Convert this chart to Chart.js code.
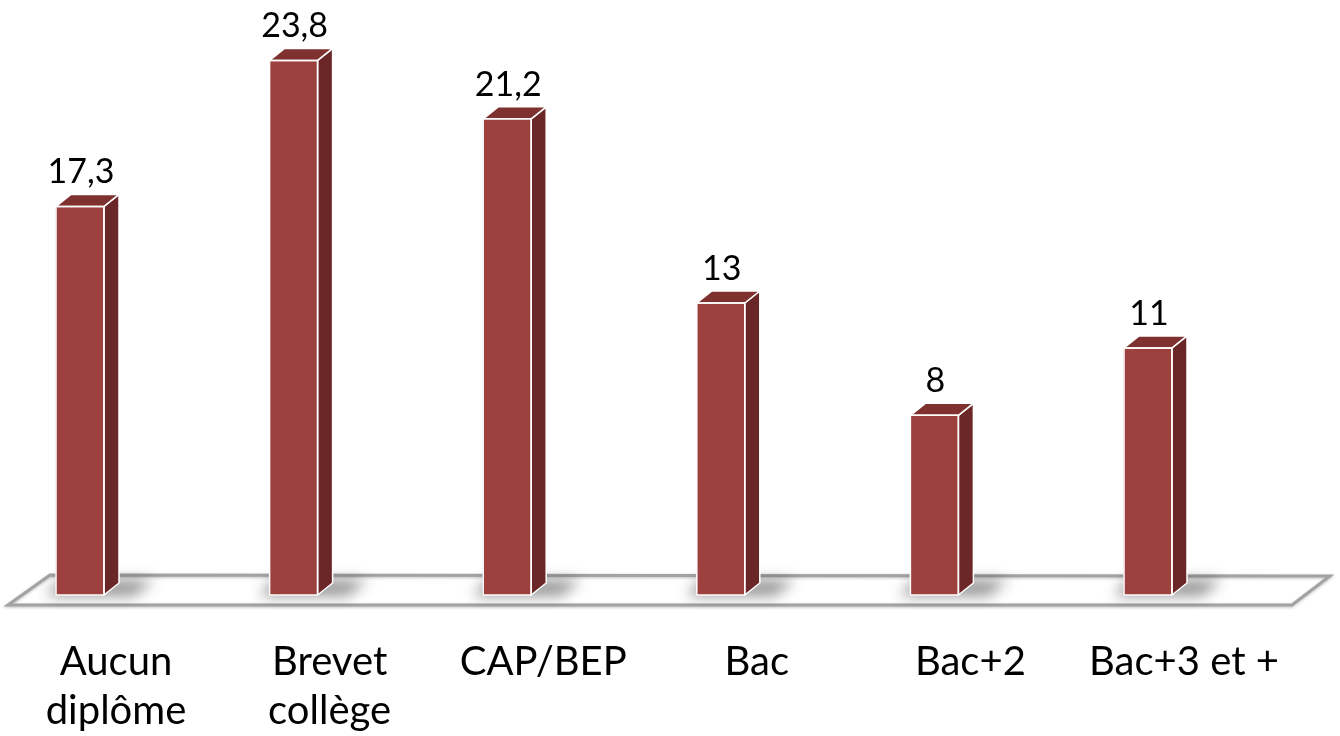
<!DOCTYPE html>
<html><head><meta charset="utf-8">
<script src="https://cdn.jsdelivr.net/npm/chart.js@4.4.1/dist/chart.umd.min.js"></script>
<style>html,body{margin:0;padding:0;background:#fff;}#wrap{width:1340px;height:736px;position:relative;}</style>
</head><body><div id="wrap"><canvas id="c"></canvas></div>
<script>
const categories = [['Aucun','diplôme'],['Brevet','collège'],'CAP/BEP','Bac','Bac+2','Bac+3 et +'];
const values = [17.3, 23.8, 21.2, 13, 8, 11];
const yMin = 0, yMax = 26;

const frontColor = '#9D413F', sideColor = '#6B2727', topColor = '#7E312F';
const depthX = 15, depthY = 12;
const fontFamily = 'Lato, "Open Sans", sans-serif';

const bars3d = {
  id: 'bars3d',
  beforeDatasetsDraw(chart) {
    const {ctx, chartArea: a} = chart;
    const y0 = chart.scales.y.getPixelForValue(0);
    ctx.save();
    // floor
    ctx.beginPath();
    ctx.moveTo(a.left - 72, y0 + 10);
    ctx.lineTo(a.left - 30, y0 - 20);
    ctx.lineTo(a.right + 182, y0 - 19);
    ctx.lineTo(a.right + 144, y0 + 10);
    ctx.closePath();
    ctx.fillStyle = '#fff';
    ctx.fill();
    ctx.shadowColor = 'rgba(0,0,0,0.25)';
    ctx.shadowBlur = 3; ctx.shadowOffsetY = 1;
    ctx.strokeStyle = '#A3A3A3';
    ctx.lineWidth = 3;
    ctx.lineJoin = 'miter';
    ctx.stroke();
    ctx.restore();
    // shadows
    const meta = chart.getDatasetMeta(0);
    meta.data.forEach(el => {
      const p = el.getProps(['x', 'width'], true);
      const l = p.x - p.width / 2, r = p.x + p.width / 2;
      ctx.save();
      ctx.filter = 'blur(7px)';
      ctx.beginPath();
      ctx.moveTo(l - 10, y0 + 1);
      ctx.lineTo(l + 4, y0 - 15);
      ctx.lineTo(r + 50, y0 - 15);
      ctx.lineTo(r + 30, y0 + 1);
      ctx.closePath();
      ctx.fillStyle = 'rgba(0,0,0,0.42)';
      ctx.fill();
      ctx.restore();
    });
  },
  afterDatasetsDraw(chart) {
    const {ctx} = chart;
    const y0 = chart.scales.y.getPixelForValue(0);
    const meta = chart.getDatasetMeta(0);
    meta.data.forEach((el, i) => {
      const p = el.getProps(['x', 'y', 'width'], true);
      const l = p.x - p.width / 2, r = p.x + p.width / 2, t = p.y;
      ctx.save();
      ctx.lineWidth = 1.5;
      ctx.strokeStyle = '#fff';
      ctx.lineJoin = 'round';
      // side
      ctx.beginPath();
      ctx.moveTo(r, t);
      ctx.lineTo(r + depthX, t - depthY);
      ctx.lineTo(r + depthX, y0 - depthY);
      ctx.lineTo(r, y0);
      ctx.closePath();
      ctx.fillStyle = sideColor;
      ctx.fill();
      ctx.stroke();
      // top
      ctx.beginPath();
      ctx.moveTo(l, t);
      ctx.lineTo(l + depthX, t - depthY);
      ctx.lineTo(r + depthX, t - depthY);
      ctx.lineTo(r, t);
      ctx.closePath();
      ctx.fillStyle = topColor;
      ctx.fill();
      ctx.stroke();
      // front outline
      ctx.strokeRect(l, t, p.width, y0 - t);
      // value label
      ctx.fillStyle = '#000';
      ctx.font = '34px ' + fontFamily;
      ctx.textAlign = 'center';
      ctx.textBaseline = 'alphabetic';
      ctx.fillText(String(values[i]).replace('.', ','), p.x + 1, t - 23);
      ctx.restore();
    });
  },
  afterDraw(chart) {
    const {ctx} = chart;
    const xs = chart.scales.x;
    const y0 = chart.scales.y.getPixelForValue(0);
    ctx.save();
    ctx.fillStyle = '#000';
    ctx.font = '40px ' + fontFamily;
    ctx.textAlign = 'center';
    ctx.textBaseline = 'alphabetic';
    categories.forEach((lab, i) => {
      const lines = Array.isArray(lab) ? lab : [lab];
      const x = xs.getPixelForTick(i) + 36;
      lines.forEach((s, j) => ctx.fillText(s, x, y0 + 80 + j * 49));
    });
    ctx.restore();
  }
};

new Chart(document.getElementById('c'), {
  type: 'bar',
  data: {
    labels: categories,
    datasets: [{
      data: values,
      backgroundColor: frontColor,
      borderColor: '#fff',
      borderWidth: 0,
      barThickness: 48,
      clip: false
    }]
  },
  options: {
    responsive: true,
    maintainAspectRatio: false,
    animation: false,
    layout: {padding: {left: 80, right: 192, top: 11, bottom: 141}},
    plugins: {legend: {display: false}, tooltip: {enabled: false}},
    scales: {
      x: {
        display: false,
        offset: false
      },
      y: {
        display: false,
        min: yMin,
        max: yMax
      }
    }
  },
  plugins: [bars3d]
});
</script>
</body></html>
